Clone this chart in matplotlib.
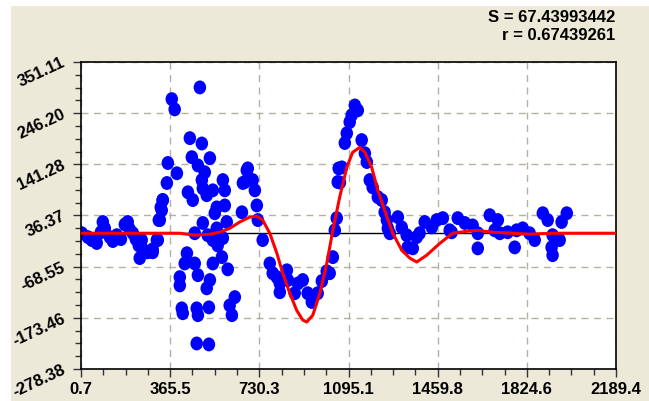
import numpy as np
import matplotlib.pyplot as plt
from matplotlib.patches import Rectangle
from matplotlib.path import Path
from matplotlib.ticker import FixedLocator

# 观测点 (x, y)
x_pts = [4, 29, 45, 65, 82, 90, 98, 119, 131, 147, 164, 180, 192, 200, 213, 225, 237, 249,
         258, 241, 274, 294, 311, 319, 327, 335,
         487, 372, 384, 446, 495, 454, 528, 356, 479, 507, 393, 352, 495, 581, 438, 499,
         540, 589, 515, 458, 335, 556, 589, 331, 548, 323, 597, 499, 556, 466, 519, 581,
         540, 560, 315, 294, 434, 425, 466, 577, 540, 479, 601, 405, 405, 528, 515, 630,
         609, 618, 413, 417, 474, 479, 524, 474, 524, 679, 663, 659,
         683, 671, 703, 712, 720, 724, 744, 773, 785, 802, 814, 814, 843, 847, 875, 888,
         908, 928, 945, 969, 986, 1006, 1018, 1031, 1039, 1047, 1051, 1055, 1060, 1068,
         1080, 1088, 1100, 1108, 1121, 1133, 1149, 1162, 1170, 1182, 1194, 1215, 1231,
         1243, 1252, 1256, 1264, 1297, 1313, 1333, 1337, 1358, 1374, 1386, 1407, 1436,
         1456, 1481, 1509,
         1517, 1542, 1571, 1603, 1624, 1624, 1673, 1706, 1693, 1714, 1746, 1775, 1783,
         1808, 1836, 1857, 1890, 1910, 1930, 1926, 1930, 1959, 1967, 1988]
y_pts = [0, -8, -14, -20, 2, 23, 10, -8, -16, -4, -12, 18, 23, 8, 0, -12, -25, -14,
         -35, -51, -39, -33, -14, 27, 53, 68,
         299, 275, 254, 195, 184, 156, 154, 144, 139, 125, 123, 103, 109, 109, 84, 92,
         88, 88, 78, 68, 68, 53, 57, 47, 41, 27, 23, 21, 10, 0, -4, -10,
         -14, -25, -14, -39, -41, -62, -62, -49, -62, -86, -74, -90, -107, -96, -113, -131,
         -148, -168, -154, -164, -154, -168, -152, -226, -228, 129, 103, 43,
         133, 105, 109, 88, 57, 27, -14, -62, -82, -90, -103, -121, -76, -96, -123, -103,
         -96, -123, -141, -123, -98, -78, -82, -49, 6, 31, 105, 133, 104, 135,
         185, 205, 228, 242, 262, 252, 191, 164, 146, 109, 94, 74, 68,
         43, 27, 10, 0, 33, 12, -4, -29, -31, -8, 0, 23, 12,
         27, 31, 6,
         2, 31, 21, 16, 0, -31, 37, 27, 6, 0, 2, -29, 6,
         10, 0, -14, 41, 27, -4, -29, -45, -14, 23, 41]

# 拟合曲线
curve_x = [0, 405, 466, 528, 569, 609, 650, 691, 720, 744, 773, 802, 826, 855, 883, 908,
           924, 949, 978, 1006, 1031, 1059, 1088, 1112, 1141, 1162, 1190, 1215, 1243,
           1276, 1313, 1346, 1374, 1415, 1468, 1521, 1579, 1620, 1685, 1767, 1836, 1930, 2189]
curve_y = [0, 0, -4, -2, 2, 10, 23, 33, 35, 27, 0, -41, -82, -123, -158, -178,
           -182, -168, -123, -62, 6, 74, 135, 166, 176, 166, 135, 88, 47,
           0, -35, -51, -59, -45, -21, 0, 4, 6, 2, 0, -2, 0, 0]

xticks = [0.7, 365.5, 730.3, 1095.1, 1459.8, 1824.6, 2189.4]
yticks = [-278.38, -173.46, -68.55, 36.37, 141.28, 246.20, 351.11]
xlabels = ['0.7', '365.5', '730.3', '1095.1', '1459.8', '1824.6', '2189.4']
ylabels = ['-278.38', '-173.46', '-68.55', '36.37', '141.28', '246.20', '351.11']

plt.rcParams['font.family'] = ['Liberation Sans', 'DejaVu Sans']

# 略高的椭圆点
circ = Path.unit_circle()
ellipse = Path(circ.vertices * [0.9, 1.0], circ.codes)

fig = plt.figure(figsize=(6.49, 4.01), dpi=100, facecolor='white')
fig.patches.append(Rectangle((11/649, 0), 1, 1 - 6/401, transform=fig.transFigure,
                             facecolor='#ECE9D8', edgecolor='none', zorder=-10))
ax = fig.add_axes([81/649, 32/401, 535/649, 307/401])
ax.set_facecolor('white')

ax.axhline(0, color='black', lw=1, zorder=1)
ax.scatter(x_pts, y_pts, s=100, marker=ellipse, color='#0000FF', edgecolors='none', zorder=2)
ax.plot(curve_x, curve_y, color='#FF0000', lw=2.2, zorder=3)

ax.set_xlim(xticks[0], xticks[-1])
ax.set_ylim(yticks[0], yticks[-1])

ax.xaxis.set_major_locator(FixedLocator(xticks))
ax.yaxis.set_major_locator(FixedLocator(yticks))
xminor = [a + (b - a) * k / 4 for a, b in zip(xticks[:-1], xticks[1:]) for k in (1, 2, 3)]
yminor = [a + (b - a) * k / 4 for a, b in zip(yticks[:-1], yticks[1:]) for k in (1, 2, 3)]
ax.xaxis.set_minor_locator(FixedLocator(xminor))
ax.yaxis.set_minor_locator(FixedLocator(yminor))
ax.set_xticklabels(xlabels, fontsize=12, fontweight='bold')
ax.set_yticklabels(ylabels, fontsize=12, fontweight='bold', rotation=25,
                   rotation_mode='anchor', ha='right', va='center')

ax.tick_params(which='major', direction='out', length=6, width=1, color='#333333', pad=3)
ax.tick_params(which='minor', direction='out', length=4, width=1, color='#333333')
ax.tick_params(axis='y', which='major', pad=6)

ax.grid(True, which='major', color='#B5B0A2', linestyle=(0, (5, 4)), lw=1)
ax.set_axisbelow(True)
for s in ax.spines.values():
    s.set_color('black')
    s.set_linewidth(1.2)

fig.text(615/649, 1 - 18/401, 'S = 67.43993442', ha='right', va='center',
         fontsize=12, fontweight='bold')
fig.text(615/649, 1 - 36/401, 'r = 0.67439261', ha='right', va='center',
         fontsize=12, fontweight='bold')

fig.savefig('out.png', dpi=100, facecolor=fig.get_facecolor())
